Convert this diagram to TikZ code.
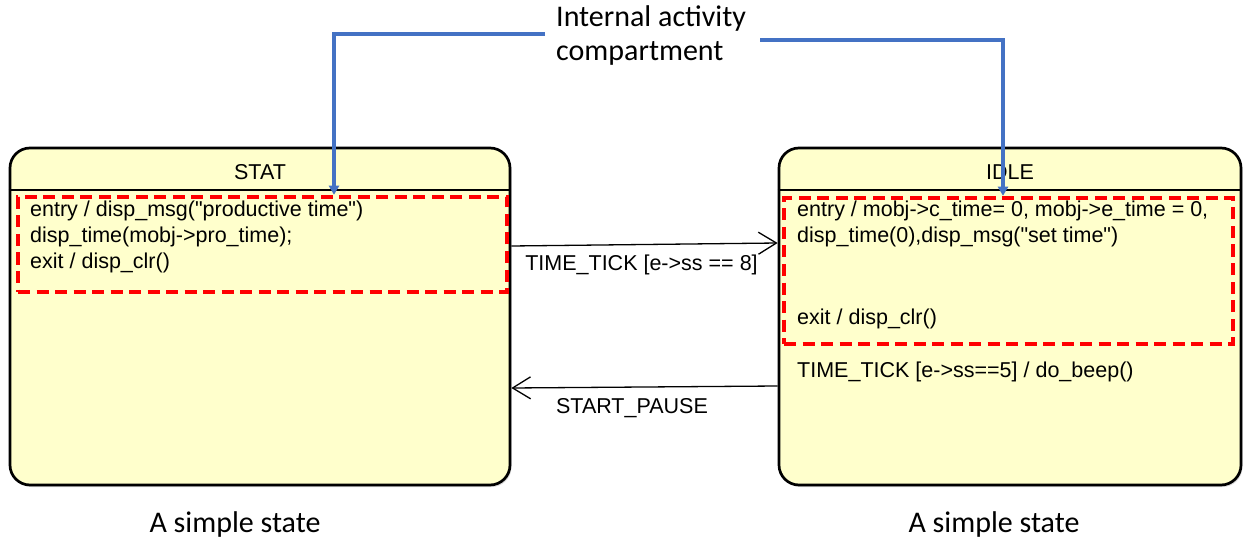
\documentclass[tikz,border=0pt]{standalone}
\usepackage{fontspec}
\newfontfamily\umlfont{Liberation Sans}
\newfontfamily\notefont{Carlito}
\usepackage{tikz}
\usetikzlibrary{positioning,calc,arrows.meta,shadows}
\definecolor{stfill}{RGB}{255,255,204}
\definecolor{callblue}{RGB}{68,114,196}

\begin{document}
\begin{tikzpicture}[x=1pt,y=-1pt]
  \tikzstyle{st}=[draw=black,line width=2.7pt,fill=stfill,rounded corners=20pt,inner sep=0pt,drop shadow={shadow xshift=1.5pt,shadow yshift=-2pt,fill=black!30}]
  \tikzstyle{act}=[draw=red,line width=4.5pt,dash pattern=on 12pt off 6.5pt,inner sep=0pt]
  \tikzstyle{txt}=[font=\umlfont\fontsize{21.5}{26}\selectfont,inner sep=0pt,align=left]
  \tikzstyle{note}=[font=\notefont\fontsize{30}{34}\selectfont,inner sep=0pt,align=left]
  \tikzstyle{tr}=[draw=black,line width=1.3pt,-{Straight Barb[length=18pt,width=22pt]}]
  \tikzstyle{callout}=[draw=callblue,line width=3.2pt,-{Triangle[length=9pt,width=10pt]}]
  \useasboundingbox (0,0) rectangle (1253,548);
  % states
  \node [st,minimum width=500pt,minimum height=337pt] (stat) at (260,316.5) {};
  \node [st,minimum width=462pt,minimum height=337pt] (idle) at (1010,316.5) {};
  \draw [line width=1.2pt] (stat.west |- 0,190) -- (stat.east |- 0,190);
  \draw [line width=1.2pt] (idle.west |- 0,190) -- (idle.east |- 0,190);
  \node [txt,anchor=base] (statname) at (260,180) {STAT};
  \node [txt,anchor=base] (idlename) at (1010,180) {IDLE};
  % internal activity compartments
  \node [act,minimum width=489pt,minimum height=95pt] (statact) at (262.5,244.5) {};
  \node [act,minimum width=449pt,minimum height=146pt] (idleact) at (1008.5,271) {};
  \node [txt,anchor=base west] (statdo) at (30,269) {entry / disp\_msg("productive time")\\disp\_time(mobj->pro\_time);\\exit / disp\_clr()};
  \node [txt,anchor=base west] (idleentry) at (797,243) {entry / mobj->c\_time= 0, mobj->e\_time = 0,\\disp\_time(0),disp\_msg("set time")};
  \node [txt,anchor=base west] (idleexit) at (797,324) {exit / disp\_clr()};
  \node [txt,anchor=base west] (idletick) at (797,377) {TIME\_TICK [e->ss==5] / do\_beep()};
  % transitions
  \draw [tr] (stat.east |- 0,246) -- (idle.west |- 0,243);
  \draw [tr] (idle.west |- 0,386) -- (stat.east |- 0,388);
  \node [txt,anchor=base] (ticklbl) at (641.5,270) {TIME\_TICK [e->ss == 8]};
  \node [txt,anchor=base] (pauselbl) at (632,413) {START\_PAUSE};
  % callout
  \node [note,anchor=base west] (note) at (556,61) {Internal activity\\compartment};
  \draw [callout] ([xshift=-11pt]note.west |- 0,34) -| ([xshift=71.5pt]statact.north);
  \draw [callout] ([xshift=14pt]note.east |- 0,40) -| ([xshift=-5.5pt]idleact.north);
  \node [note,anchor=base] (statcap) at (235,532) {A simple state};
  \node [note,anchor=base] (idlecap) at (994,532) {A simple state};
\end{tikzpicture}
\end{document}
